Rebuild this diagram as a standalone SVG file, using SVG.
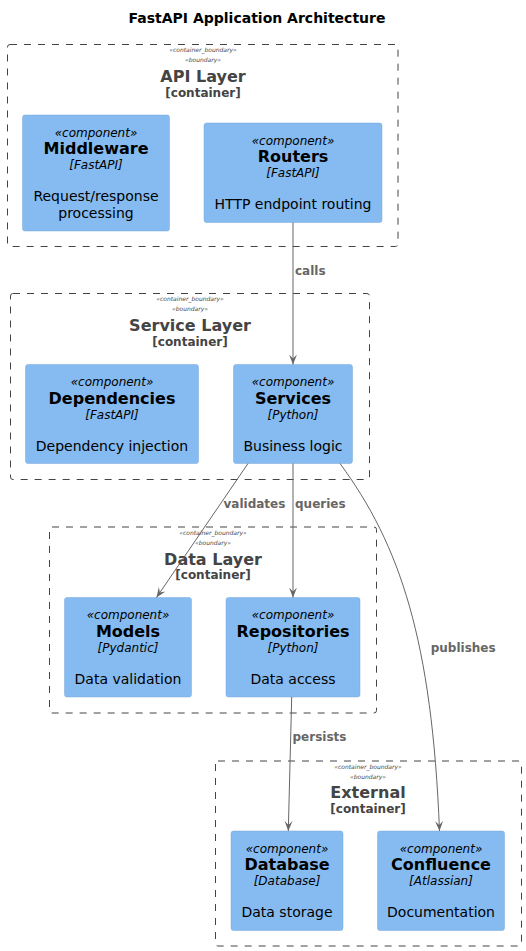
<svg xmlns="http://www.w3.org/2000/svg" width="526" height="951" viewBox="0 0 526 951">
<style>
text{font-family:"DejaVu Sans","Liberation Sans",sans-serif;}
.title{font-size:14px;font-weight:bold;fill:#000;text-anchor:middle;}
.bnd{fill:none;stroke:#444444;stroke-width:1;stroke-dasharray:7,7;}
.bst{font-size:6px;font-style:italic;fill:#444444;text-anchor:middle;}
.bname{font-size:16px;font-weight:bold;fill:#444444;text-anchor:middle;}
.btype{font-size:12px;font-weight:bold;fill:#444444;text-anchor:middle;}
.comp{fill:#85BBF0;stroke:#78A8D8;stroke-width:0.5;}
.cst{font-size:12px;font-style:italic;fill:#000;text-anchor:middle;}
.cname{font-size:16px;font-weight:bold;fill:#000;text-anchor:middle;}
.ctech{font-size:12px;font-style:italic;fill:#000;text-anchor:middle;}
.cdesc{font-size:14px;fill:#000;text-anchor:middle;}
.edge{fill:none;stroke:#666666;stroke-width:1;marker-end:url(#arr);}
.elab{font-size:12px;font-weight:bold;fill:#666666;}
</style>
<defs>
<marker id="arr" viewBox="0 0 10 10" refX="10" refY="5" markerWidth="10" markerHeight="10" markerUnits="userSpaceOnUse" orient="auto">
<path d="M0,1 L10,5 L0,9 L4,5 z" fill="#666666"/>
</marker>
</defs>
<rect width="526" height="951" fill="#ffffff"/>
<text class="title" x="257" y="23">FastAPI Application Architecture</text>

<g id="api-layer">
<rect class="bnd" x="7.5" y="44.5" width="390.5" height="202" rx="2.5"/>
<text class="bst" x="203" y="52.2">«container_boundary»</text>
<text class="bst" x="203" y="62.2">«boundary»</text>
<text class="bname" x="203" y="82">API Layer</text>
<text class="btype" x="203" y="96.5">[container]</text>
</g>
<g id="middleware">
<rect class="comp" x="22.5" y="115" width="147" height="116" rx="2.5"/>
<text class="cst" x="96" y="136.5">«component»</text>
<text class="cname" x="96" y="154.2">Middleware</text>
<text class="ctech" x="96" y="169">[FastAPI]</text>
<text class="cdesc" x="96" y="201.3">Request/response</text>
<text class="cdesc" x="96" y="217.6">processing</text>
</g>
<g id="routers">
<rect class="comp" x="204" y="123" width="178" height="99.5" rx="2.5"/>
<text class="cst" x="293" y="144.5">«component»</text>
<text class="cname" x="293" y="162.2">Routers</text>
<text class="ctech" x="293" y="177">[FastAPI]</text>
<text class="cdesc" x="293" y="209">HTTP endpoint routing</text>
</g>

<g id="service-layer">
<rect class="bnd" x="10.5" y="293.5" width="359" height="186" rx="2.5"/>
<text class="bst" x="190" y="301.2">«container_boundary»</text>
<text class="bst" x="190" y="311.2">«boundary»</text>
<text class="bname" x="190" y="331">Service Layer</text>
<text class="btype" x="190" y="345.5">[container]</text>
</g>
<g id="dependencies">
<rect class="comp" x="25.5" y="364.5" width="173" height="99" rx="2.5"/>
<text class="cst" x="112" y="386">«component»</text>
<text class="cname" x="112" y="403.7">Dependencies</text>
<text class="ctech" x="112" y="418.5">[FastAPI]</text>
<text class="cdesc" x="112" y="450.5">Dependency injection</text>
</g>
<g id="services">
<rect class="comp" x="233.5" y="364.5" width="119" height="99" rx="2.5"/>
<text class="cst" x="293" y="386">«component»</text>
<text class="cname" x="293" y="403.7">Services</text>
<text class="ctech" x="293" y="418.5">[Python]</text>
<text class="cdesc" x="293" y="450.5">Business logic</text>
</g>

<g id="data-layer">
<rect class="bnd" x="49.5" y="527" width="327" height="186" rx="2.5"/>
<text class="bst" x="213" y="534.7">«container_boundary»</text>
<text class="bst" x="213" y="544.7">«boundary»</text>
<text class="bname" x="213" y="564.5">Data Layer</text>
<text class="btype" x="213" y="579">[container]</text>
</g>
<g id="models">
<rect class="comp" x="64.5" y="597.5" width="127" height="99.5" rx="2.5"/>
<text class="cst" x="128" y="619">«component»</text>
<text class="cname" x="128" y="636.7">Models</text>
<text class="ctech" x="128" y="651.5">[Pydantic]</text>
<text class="cdesc" x="128" y="683.5">Data validation</text>
</g>
<g id="repositories">
<rect class="comp" x="226" y="597.5" width="134" height="99.5" rx="2.5"/>
<text class="cst" x="293" y="619">«component»</text>
<text class="cname" x="293" y="636.7">Repositories</text>
<text class="ctech" x="293" y="651.5">[Python]</text>
<text class="cdesc" x="293" y="683.5">Data access</text>
</g>

<g id="external">
<rect class="bnd" x="215.5" y="761" width="306" height="185" rx="2.5"/>
<text class="bst" x="368" y="768.7">«container_boundary»</text>
<text class="bst" x="368" y="778.7">«boundary»</text>
<text class="bname" x="368" y="797.5">External</text>
<text class="btype" x="368" y="812.5">[container]</text>
</g>
<g id="database">
<rect class="comp" x="231" y="831" width="112" height="99.5" rx="2.5"/>
<text class="cst" x="287" y="852.5">«component»</text>
<text class="cname" x="287" y="870.2">Database</text>
<text class="ctech" x="287" y="885">[Database]</text>
<text class="cdesc" x="287" y="917">Data storage</text>
</g>
<g id="confluence">
<rect class="comp" x="377.5" y="831" width="127" height="99.5" rx="2.5"/>
<text class="cst" x="441" y="852.5">«component»</text>
<text class="cname" x="441" y="870.2">Confluence</text>
<text class="ctech" x="441" y="885">[Atlassian]</text>
<text class="cdesc" x="441" y="917">Documentation</text>
</g>

<g id="connectors">
<path class="edge" d="M293,222.5 L293,364.5"/>
<text class="elab" x="295" y="275.2">calls</text>
<path class="edge" d="M248,463.5 L156.5,597.5"/>
<text class="elab" x="223.5" y="508.2">validates</text>
<path class="edge" d="M293,463.5 L293,597.5"/>
<text class="elab" x="295" y="508.2">queries</text>
<path class="edge" d="M340,463.5 C400,545 432,640 439.5,831"/>
<text class="elab" x="430.7" y="652.2">publishes</text>
<path class="edge" d="M291.7,697 L288.3,831"/>
<text class="elab" x="292.5" y="741">persists</text>
</g>
</svg>
